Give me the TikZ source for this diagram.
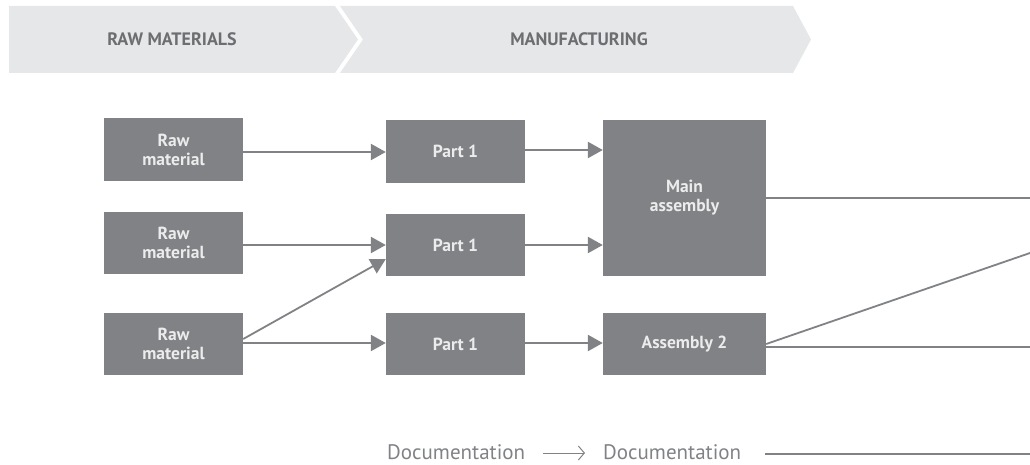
\documentclass[tikz,border=0pt]{standalone}
\usepackage{fontspec}
\setmainfont{PT Sans}
\usetikzlibrary{arrows.meta}
\definecolor{boxgray}{HTML}{808285}
\definecolor{bannergray}{HTML}{E6E7E8}
\definecolor{bannertext}{HTML}{6D6E71}
\definecolor{boxtext}{HTML}{ECECEC}
\tikzset{
  procbox/.style={fill=boxgray, draw=none, inner sep=0pt, text=boxtext,
    font=\fontsize{17.5}{19}\selectfont\bfseries, align=center},
  flow/.style={draw=boxgray, line width=2.4pt, -{Triangle[length=15pt,width=16pt]}},
  flowthin/.style={draw=boxgray, line width=1.8pt, -{Triangle[length=15pt,width=16pt]}},
  outline/.style={draw=boxgray, line width=2.6pt},
  outthin/.style={draw=boxgray, line width=1.8pt},
  bannerlbl/.style={text=bannertext, font=\fontsize{18}{20}\selectfont\bfseries},
  doclbl/.style={text=boxgray, font=\fontsize{21}{23}\selectfont, inner sep=0pt},
}
\begin{document}
\begin{tikzpicture}[x=1pt, y=-1pt]
\useasboundingbox (0,0) rectangle (1030,465);
% banner
\fill[bannergray] (9,6) -- (335,6) -- (358,39.5) -- (335,73) -- (9,73) -- cycle;
\fill[bannergray] (340,6) -- (793,6) -- (811,39.5) -- (793,73) -- (340,73) -- (363,39.5) -- cycle;
\node[bannerlbl] (b1) at (172,39.5) {RAW MATERIALS};
\node[bannerlbl] (b2) at (579,39.5) {MANUFACTURING};
% boxes
\node[procbox, minimum width=139pt, minimum height=63pt] (r1) at (173.5,149.5) {Raw\\material};
\node[procbox, minimum width=139pt, minimum height=62pt] (r2) at (173.5,242.5) {Raw\\material};
\node[procbox, minimum width=139pt, minimum height=62pt] (r3) at (173.5,344) {Raw\\material};
\node[procbox, minimum width=139pt, minimum height=63pt] (p1) at (455.5,151.5) {Part 1};
\node[procbox, minimum width=139pt, minimum height=62pt] (p2) at (455.5,245) {Part 1};
\node[procbox, minimum width=139pt, minimum height=62pt] (p3) at (455.5,344) {Part 1};
\node[procbox, minimum width=163pt, minimum height=156pt] (ma) at (684.5,198) {Main\\assembly};
\node[procbox, minimum width=163pt, minimum height=62pt] (a2) at (684.5,344) {Assembly 2};
% right edge coordinates
\coordinate (e1) at (1030,198);
\coordinate (e2) at (1030,253);
\coordinate (e3) at (1030,347);
\coordinate (e4) at (1030,454);
% connectors
\draw[flow] (r1.east |- 0,152) -- (p1.west |- 0,152);
\draw[flow] (r2.east |- 0,245) -- (p2.west |- 0,245);
\draw[flowthin] (r3.east |- 0,339) -- (p2.west |- 0,259);
\draw[flow] (r3.east |- 0,343) -- (p3.west |- 0,343);
\draw[flow] (p1.east |- 0,150) -- (ma.west |- 0,150);
\draw[flow] (p2.east |- 0,245) -- (ma.west |- 0,245);
\draw[flow] (p3.east |- 0,343) -- (a2.west |- 0,343);
\draw[outline] (ma.east |- 0,198) -- (e1);
\draw[outthin] (a2.east |- 0,344) -- (e2);
\draw[outline] (a2.east |- 0,347) -- (e3);
% documentation
\node[doclbl, anchor=west] (d1) at (387,452) {Documentation};
\node[doclbl, anchor=west] (d2) at (603,452) {Documentation};
\coordinate (da) at (543,453);
\coordinate (dz) at (585,453);
\coordinate (db) at (765,454);
\draw[draw=boxgray, line width=1pt, -{Straight Barb[length=6pt,width=14pt]}] (da) -- (dz);
\draw[outline] (db) -- (e4);
\end{tikzpicture}
\end{document}
